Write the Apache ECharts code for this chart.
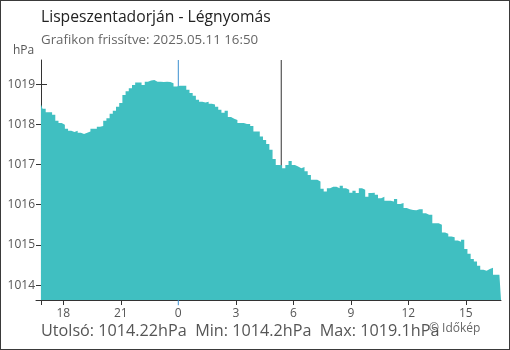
<!DOCTYPE html>
<html lang="hu">
<head>
    <meta charset="UTF-8">
    <title>Légnyomás</title>
    <style>
        body{ margin:0; background:#fff; }
        .chart{
            width: 508px;
            height: 348px;
            border: 1px solid #3a3a3a;
        }
    </style>
</head>
<body>
    <div class="chart" id="chart"></div>

    <script src="https://cdn.jsdelivr.net/npm/echarts@6/dist/echarts.min.js"></script>
    <script>
        // 10 perces mérések, az első 16:50-kor (előző nap), órában éjfélhez képest
        const startHour = -7 - 10 / 60
        const stepHour = 10 / 60
        const pressure = [
            1018.50, 1018.39, 1018.30, 1018.30, 1018.24, 1018.09, 1018.03, 1017.99, 1017.89, 1017.84,
            1017.81, 1017.84, 1017.79, 1017.76, 1017.79, 1017.82, 1017.89, 1017.89, 1017.94, 1017.96,
            1018.09, 1018.15, 1018.26, 1018.34, 1018.44, 1018.53, 1018.73, 1018.82, 1018.90, 1018.98,
            1019.04, 1019.04, 1018.98, 1019.06, 1019.09, 1019.10, 1019.06, 1019.06, 1019.05, 1019.06,
            1019.05, 1019.02, 1018.94, 1018.96, 1018.96, 1018.96, 1018.86, 1018.78, 1018.71, 1018.61,
            1018.56, 1018.54, 1018.56, 1018.51, 1018.49, 1018.44, 1018.36, 1018.29, 1018.34, 1018.18,
            1018.14, 1018.11, 1018.03, 1018.03, 1018.01, 1018.01, 1017.96, 1017.82, 1017.82, 1017.70,
            1017.61, 1017.51, 1017.37, 1017.14, 1016.99, 1016.98, 1016.91, 1016.99, 1017.09, 1016.99,
            1016.95, 1016.91, 1016.94, 1016.83, 1016.74, 1016.62, 1016.62, 1016.58, 1016.40, 1016.33,
            1016.41, 1016.45, 1016.45, 1016.41, 1016.47, 1016.41, 1016.37, 1016.30, 1016.35, 1016.29,
            1016.41, 1016.37, 1016.20, 1016.29, 1016.30, 1016.25, 1016.16, 1016.20, 1016.10, 1016.10,
            1016.08, 1016.14, 1016.02, 1016.04, 1015.92, 1015.89, 1015.87, 1015.86, 1015.89, 1015.89,
            1015.79, 1015.75, 1015.75, 1015.54, 1015.54, 1015.50, 1015.31, 1015.28, 1015.21, 1015.19,
            1015.11, 1015.08, 1015.13, 1014.90, 1014.78, 1014.65, 1014.59, 1014.48, 1014.38, 1014.36,
            1014.40, 1014.43, 1014.26, 1014.26, 1014.22
        ]
        const hourTicks = [-6, -3, 0, 3, 6, 9, 12, 15]
        const pressureTicks = [1014, 1015, 1016, 1017, 1018, 1019]
        const midnightHour = 0
        const sunriseHour = 5.37

        const yMin = 1013.63, yMax = 1019.6
        const xMin = -7.423, xMax = 16.8333

        let chart = echarts.init(document.getElementById('chart'))

        let seriesData = pressure.map((v, i) => [startHour + i * stepHour, v])

        const fontFam = '"Open Sans", "Noto Sans", sans-serif'

        let option = {
            animation: false,
            grid: { left: 35, right: 8, top: 59, bottom: 49 },
            xAxis: {
                type: 'value',
                min: xMin,
                max: xMax,
                splitLine: { show: false },
                axisLine: { onZero: false, lineStyle: { color: '#333', width: 1 } },
                axisTick: {
                    length: 5,
                    lineStyle: { color: '#333' },
                    customValues: [startHour].concat(hourTicks.filter(h => h !== midnightHour))
                },
                axisLabel: {
                    customValues: hourTicks,
                    margin: 8,
                    color: '#555',
                    fontSize: 12,
                    fontFamily: fontFam,
                    formatter: v => String((v + 24) % 24)
                }
            },
            yAxis: [{
                // tengely vonala x=40-nél
                type: 'value',
                min: yMin,
                max: yMax,
                offset: -5,
                splitLine: { show: false },
                axisLine: { show: true, onZero: false, lineStyle: { color: '#333' } },
                axisTick: { show: false },
                axisLabel: { show: false }
            }, {
                // osztások, amik átmetszik a tengelyt (35..46)
                type: 'value',
                min: yMin,
                max: yMax,
                offset: -11,
                position: 'left',
                splitLine: { show: false },
                axisLine: { show: false, onZero: false },
                axisTick: { show: true, length: 11, lineStyle: { color: '#333' }, customValues: pressureTicks },
                axisLabel: {
                    customValues: pressureTicks,
                    margin: 12,
                    color: '#555',
                    fontSize: 12,
                    fontFamily: fontFam,
                    formatter: v => String(v)
                }
            }],
            series: [{
                type: 'line',
                z: 1,
                clip: false,
                symbol: 'none',
                silent: true,
                lineStyle: { color: '#3a8fd0', width: 1 },
                data: [[midnightHour, yMin - 0.13], [midnightHour, yMax]]
            }, {
                type: 'line',
                z: 1,
                symbol: 'none',
                silent: true,
                lineStyle: { color: '#333', width: 1 },
                data: [[sunriseHour, yMin], [sunriseHour, yMax]]
            }, {
                type: 'line',
                z: 3,
                step: 'middle',
                symbol: 'none',
                lineStyle: { width: 0 },
                areaStyle: { color: '#40bfc1', opacity: 1, origin: 'start' },
                data: seriesData
            }],
            graphic: [{
                type: 'text', left: 40, top: 9,
                style: { text: 'Lispeszentadorján - Légnyomás', fill: '#222', font: '15.7px ' + fontFam }
            }, {
                type: 'text', left: 40, top: 33,
                style: { text: 'Grafikon frissítve: 2025.05.11 16:50', fill: '#666', font: '13.3px ' + fontFam }
            }, {
                type: 'text', left: 12, top: 44,
                style: { text: 'hPa', fill: '#555', font: '12px ' + fontFam }
            }, {
                type: 'text', left: 40, top: 322,
                style: { text: 'Utolsó: 1014.22hPa  Min: 1014.2hPa  Max: 1019.1hPa', fill: '#555', font: '16.2px ' + fontFam }
            }, {
                type: 'text', left: 428, top: 322,
                style: { text: '© Időkép', fill: '#666', font: '12px ' + fontFam }
            }]
        }
        chart.setOption(option)
    </script>
</body>
</html>
